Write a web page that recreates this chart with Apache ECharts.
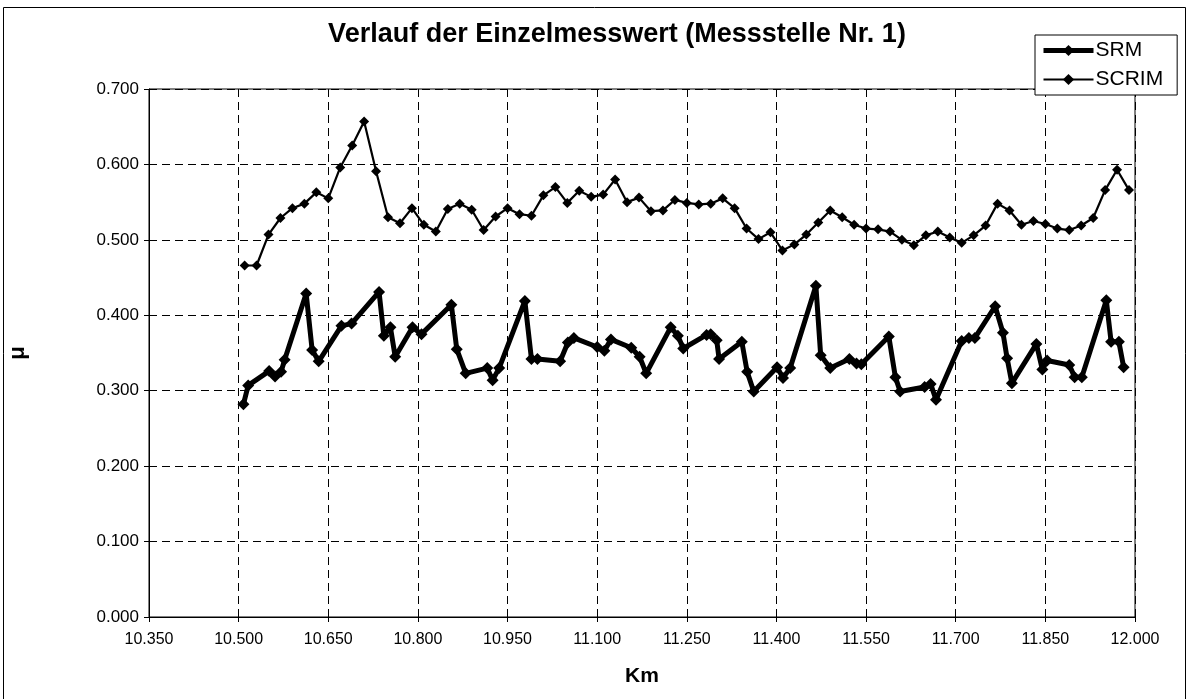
<!DOCTYPE html>
<html>
<head>
<meta charset="utf-8">
<script src="https://cdn.jsdelivr.net/npm/echarts@6/dist/echarts.min.js"></script>
<style>
	html, body { margin: 0; padding: 0; background: #fff; }
	#chart { width: 1189px; height: 699px; }
</style>
</head>
<body>
<div id="chart"></div>
<script>
// SRM: irregular positions along the road (km) and friction values
var srmKm = [10.508, 10.516, 10.551, 10.561, 10.571, 10.577, 10.613, 10.623, 10.634, 10.672,
	10.689, 10.735, 10.743, 10.754, 10.762, 10.791, 10.806, 10.856, 10.865, 10.880,
	10.916, 10.925, 10.936, 10.979, 10.990, 11.000, 11.038, 11.051, 11.061, 11.100,
	11.112, 11.123, 11.157, 11.171, 11.182, 11.223, 11.235, 11.244, 11.283, 11.290,
	11.300, 11.304, 11.342, 11.351, 11.362, 11.401, 11.411, 11.423, 11.466, 11.474,
	11.490, 11.522, 11.534, 11.542, 11.588, 11.599, 11.607, 11.648, 11.658, 11.667,
	11.710, 11.722, 11.732, 11.766, 11.779, 11.786, 11.794, 11.835, 11.845, 11.853,
	11.890, 11.899, 11.911, 11.952, 11.960, 11.973, 11.981];
var srmMu = [0.282, 0.307, 0.326, 0.319, 0.325, 0.341, 0.429, 0.354, 0.339, 0.386,
	0.389, 0.431, 0.373, 0.384, 0.345, 0.384, 0.375, 0.414, 0.355, 0.323,
	0.330, 0.314, 0.330, 0.419, 0.342, 0.342, 0.339, 0.364, 0.370, 0.358,
	0.353, 0.368, 0.357, 0.345, 0.323, 0.384, 0.373, 0.356, 0.374, 0.375,
	0.367, 0.342, 0.365, 0.325, 0.299, 0.331, 0.317, 0.330, 0.439, 0.347,
	0.330, 0.342, 0.336, 0.335, 0.372, 0.318, 0.299, 0.305, 0.309, 0.288,
	0.366, 0.370, 0.370, 0.412, 0.377, 0.343, 0.310, 0.362, 0.328, 0.340,
	0.334, 0.318, 0.318, 0.420, 0.365, 0.365, 0.331];

// SCRIM: every 20 m
var scrimKm = [10.51, 10.53, 10.55, 10.57, 10.59, 10.61, 10.63, 10.65, 10.67, 10.69,
	10.71, 10.73, 10.75, 10.77, 10.79, 10.81, 10.83, 10.85, 10.87, 10.89,
	10.91, 10.93, 10.95, 10.97, 10.99, 11.01, 11.03, 11.05, 11.07, 11.09,
	11.11, 11.13, 11.15, 11.17, 11.19, 11.21, 11.23, 11.25, 11.27, 11.29,
	11.31, 11.33, 11.35, 11.37, 11.39, 11.41, 11.43, 11.45, 11.47, 11.49,
	11.51, 11.53, 11.55, 11.57, 11.59, 11.61, 11.63, 11.65, 11.67, 11.69,
	11.71, 11.73, 11.75, 11.77, 11.79, 11.81, 11.83, 11.85, 11.87, 11.89,
	11.91, 11.93, 11.95, 11.97, 11.99];
var scrimMu = [0.466, 0.466, 0.507, 0.529, 0.542, 0.548, 0.563, 0.555, 0.596, 0.625,
	0.657, 0.591, 0.530, 0.522, 0.542, 0.520, 0.511, 0.541, 0.548, 0.540,
	0.513, 0.531, 0.542, 0.534, 0.532, 0.559, 0.570, 0.549, 0.565, 0.557,
	0.560, 0.580, 0.550, 0.556, 0.538, 0.539, 0.553, 0.549, 0.547, 0.548,
	0.555, 0.542, 0.515, 0.501, 0.510, 0.486, 0.494, 0.507, 0.523, 0.539,
	0.530, 0.520, 0.515, 0.514, 0.511, 0.500, 0.493, 0.506, 0.511, 0.503,
	0.496, 0.506, 0.519, 0.548, 0.539, 0.520, 0.525, 0.521, 0.515, 0.513,
	0.519, 0.529, 0.566, 0.593, 0.566];

var kmMin = 10.35, kmMax = 12.0, kmStep = 0.15;
var muMin = 0, muMax = 0.7, muStep = 0.1;

function pairs(xs, ys) {
	var out = [];
	for (var i = 0; i < xs.length; i++) {
		out.push([xs[i], ys[i]]);
	}
	return out;
}

var font = 'Liberation Sans, Arial, sans-serif';
var gridDash = {color: '#000', width: 1, type: [8, 5]};

var chart = echarts.init(document.getElementById('chart'));

var options = {
	backgroundColor: '#fff',
	animation: false,
	title: {
		text: 'Verlauf der Einzelmesswert (Messstelle Nr. 1)',
		left: 612,
		top: 16,
		textAlign: 'center',
		textStyle: {fontFamily: font, fontSize: 27, fontWeight: 'bold', color: '#000'}
	},
	legend: {
		orient: 'vertical',
		left: 1035,
		top: 35,
		itemWidth: 50,
		itemHeight: 14,
		itemGap: 8,
		padding: [5, 14, 5, 6],
		backgroundColor: '#fff',
		borderColor: '#000',
		borderWidth: 1,
		z: 10,
		textStyle: {fontFamily: font, fontSize: 21, color: '#000', padding: [0, 0, 0, -3]},
		data: [
			{name: 'SRM', lineStyle: {width: 5}},
			{name: 'SCRIM', lineStyle: {width: 2}}
		]
	},
	grid: {
		left: 149,
		right: 54,
		top: 89,
		bottom: 82,
		outerBoundsMode: 'none',
		show: true,
		borderColor: '#000',
		borderWidth: 1
	},
	xAxis: {
		type: 'value',
		min: kmMin,
		max: kmMax,
		interval: kmStep,
		name: 'Km',
		nameLocation: 'middle',
		nameGap: 49,
		nameTextStyle: {fontFamily: font, fontSize: 21, fontWeight: 'bold', color: '#000'},
		axisLine: {lineStyle: {color: '#000', width: 1}},
		axisTick: {show: true, length: 5, lineStyle: {color: '#000'}},
		axisLabel: {
			fontFamily: font, fontSize: 16, color: '#000', margin: 15,
			formatter: function (v) { return v.toFixed(3); }
		},
		splitLine: {show: true, lineStyle: gridDash}
	},
	yAxis: {
		type: 'value',
		min: muMin,
		max: muMax,
		interval: muStep,
		name: 'μ',
		nameLocation: 'middle',
		nameGap: 120,
		nameRotate: 90,
		nameTextStyle: {fontFamily: font, fontSize: 22, fontWeight: 'bold', color: '#000'},
		axisLine: {show: true, lineStyle: {color: '#000', width: 1}},
		axisTick: {show: true, length: 5, lineStyle: {color: '#000'}},
		axisLabel: {
			fontFamily: font, fontSize: 17, color: '#000', margin: 10,
			formatter: function (v) { return v.toFixed(3); }
		},
		splitLine: {show: true, lineStyle: gridDash}
	},
	graphic: [{
		type: 'rect',
		shape: {x: 3.5, y: 7.5, width: 1182, height: 700},
		style: {fill: 'none', stroke: '#000', lineWidth: 1},
		silent: true,
		z: -1
	}],
	series: [
		{
			name: 'SRM',
			type: 'line',
			data: pairs(srmKm, srmMu),
			symbol: 'diamond',
			symbolSize: 12,
			lineStyle: {color: '#000', width: 5},
			itemStyle: {color: '#000'},
			z: 3
		},
		{
			name: 'SCRIM',
			type: 'line',
			data: pairs(scrimKm, scrimMu),
			symbol: 'diamond',
			symbolSize: 10,
			lineStyle: {color: '#000', width: 2.2},
			itemStyle: {color: '#000'},
			z: 3
		}
	]
};

chart.setOption(options);
</script>
</body>
</html>
